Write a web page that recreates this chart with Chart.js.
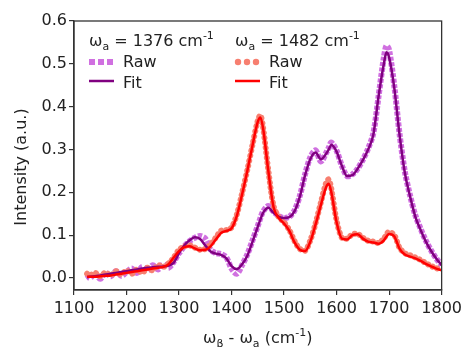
<!DOCTYPE html>
<html>
<head>
<meta charset="utf-8">
<script src="https://cdn.jsdelivr.net/npm/chart.js@4.4.0/dist/chart.umd.min.js"></script>
<style>
  html, body { margin: 0; padding: 0; background: #fff; }
  #wrap { width: 466px; height: 347px; }
</style>
</head>
<body>
<div id="wrap"><canvas id="myChart" width="466" height="347"></canvas></div>
<script>
const ctx = document.getElementById('myChart');

// raman shift grid (cm-1)
const shift = [1125, 1130, 1140, 1150, 1160, 1170, 1180, 1190, 1200, 1210, 1220, 1230, 1240, 1250,
  1260, 1270, 1280, 1290, 1300, 1310, 1320, 1330, 1340, 1350, 1360, 1370, 1380, 1390, 1400,
  1410, 1420, 1430, 1440, 1450, 1455, 1460, 1470, 1480, 1490, 1500, 1510, 1520, 1530, 1540,
  1550, 1560, 1570, 1580, 1585, 1590, 1600, 1610, 1620, 1630, 1640, 1650, 1660, 1670, 1680,
  1690, 1695, 1700, 1710, 1720, 1730, 1740, 1750, 1760, 1770, 1780, 1790, 1800];

// pump 1376 cm-1
const raw1376 = [0.008, 0.000, 0.010, -0.002, 0.012, 0.004, 0.016, 0.005, 0.014, 0.022, 0.012, 0.026, 0.018, 0.030,
  0.020, 0.032, 0.024, 0.038, 0.058, 0.074, 0.086, 0.094, 0.098, 0.092, 0.066, 0.058, 0.056, 0.048, 0.022,
  0.010, 0.030, 0.055, 0.088, 0.122, 0.140, 0.155, 0.168, 0.155, 0.145, 0.140, 0.143, 0.158, 0.192, 0.242,
  0.282, 0.298, 0.272, 0.292, 0.304, 0.316, 0.297, 0.262, 0.238, 0.242, 0.255, 0.276, 0.302, 0.338, 0.425,
  0.515, 0.542, 0.532, 0.447, 0.335, 0.248, 0.192, 0.146, 0.115, 0.087, 0.064, 0.045, 0.030];
const fit1376 = [0.002, 0.003, 0.004, 0.006, 0.008, 0.010, 0.012, 0.014, 0.016, 0.018, 0.020, 0.022, 0.024, 0.025,
  0.026, 0.027, 0.029, 0.036, 0.058, 0.076, 0.088, 0.095, 0.091, 0.076, 0.062, 0.057, 0.054, 0.046, 0.028,
  0.021, 0.032, 0.052, 0.085, 0.120, 0.137, 0.152, 0.164, 0.152, 0.143, 0.140, 0.142, 0.156, 0.190, 0.240,
  0.278, 0.293, 0.277, 0.290, 0.300, 0.311, 0.295, 0.262, 0.238, 0.240, 0.255, 0.275, 0.300, 0.335, 0.425,
  0.500, 0.527, 0.515, 0.442, 0.333, 0.245, 0.190, 0.143, 0.112, 0.085, 0.063, 0.045, 0.030];

// pump 1482 cm-1
const raw1482 = [0.010, 0.006, 0.012, 0.004, 0.013, 0.006, 0.016, 0.008, 0.018, 0.010, 0.020, 0.012, 0.024, 0.018,
  0.030, 0.026, 0.034, 0.048, 0.066, 0.074, 0.076, 0.071, 0.066, 0.068, 0.078, 0.094, 0.110, 0.112, 0.118,
  0.148, 0.198, 0.252, 0.312, 0.368, 0.380, 0.352, 0.252, 0.168, 0.142, 0.130, 0.112, 0.086, 0.068, 0.064,
  0.088, 0.128, 0.176, 0.222, 0.230, 0.208, 0.134, 0.094, 0.092, 0.102, 0.103, 0.094, 0.087, 0.085, 0.082,
  0.092, 0.102, 0.108, 0.100, 0.070, 0.058, 0.053, 0.048, 0.042, 0.035, 0.028, 0.023, 0.018];
const fit1482 = [0.003, 0.003, 0.003, 0.004, 0.005, 0.006, 0.008, 0.010, 0.012, 0.014, 0.016, 0.018, 0.020, 0.022,
  0.024, 0.026, 0.032, 0.048, 0.063, 0.072, 0.074, 0.069, 0.065, 0.066, 0.074, 0.090, 0.105, 0.110, 0.116,
  0.145, 0.195, 0.250, 0.310, 0.365, 0.375, 0.350, 0.250, 0.165, 0.140, 0.127, 0.110, 0.083, 0.066, 0.063,
  0.085, 0.125, 0.170, 0.212, 0.220, 0.200, 0.130, 0.092, 0.090, 0.100, 0.102, 0.092, 0.085, 0.083, 0.080,
  0.088, 0.097, 0.103, 0.097, 0.068, 0.055, 0.050, 0.046, 0.040, 0.033, 0.027, 0.022, 0.018];

const pumps = [1376, 1482];
const xTicks = [1100, 1200, 1300, 1400, 1500, 1600, 1700, 1800];
const yTicks = [0.0, 0.1, 0.2, 0.3, 0.4, 0.5, 0.6];

const purpleRaw = '#d070e0', purpleFit = '#800080';
const redRaw = '#f77f70', redFit = '#ff0000';
const FONT = '"DejaVu Sans", Verdana, sans-serif';

function pts(arr) {
  return shift.map((x, i) => ({x: x, y: arr[i]}));
}

// draw text with sub/superscript parts
function rich(c, parts, x, y, size) {
  let cx = x;
  parts.forEach(p => {
    const small = p[1] !== 'n';
    c.font = (small ? Math.round(size * 0.68) : size) + 'px ' + FONT;
    let dy = 0;
    if (p[1] === 'sub') dy = size * 0.28;
    if (p[1] === 'sup') dy = -size * 0.42;
    c.fillText(p[0], cx, y + dy);
    cx += c.measureText(p[0]).width;
  });
  return cx - x;
}
function richWidth(c, parts, size) {
  let w = 0;
  parts.forEach(p => {
    c.font = (p[1] !== 'n' ? Math.round(size * 0.68) : size) + 'px ' + FONT;
    w += c.measureText(p[0]).width;
  });
  return w;
}

const decor = {
  id: 'decor',
  afterDraw(chart) {
    const c = chart.ctx, a = chart.chartArea;
    c.save();
    // frame
    c.strokeStyle = '#333';
    c.lineWidth = 1.3;
    c.strokeRect(a.left, a.top, a.right - a.left, a.bottom - a.top);

    c.fillStyle = '#222';
    c.textBaseline = 'alphabetic';
    // x title
    const xt = [['ω', 'n'], ['β', 'sub'], [' - ω', 'n'], ['a', 'sub'], [' (cm', 'n'], ['-1', 'sup'], [')', 'n']];
    const w = richWidth(c, xt, 16);
    rich(c, xt, (a.left + a.right) / 2 - w / 2, 343, 16);
    // y title
    c.save();
    c.translate(22, 167);
    c.rotate(-Math.PI / 2);
    c.font = '16px ' + FONT;
    c.textAlign = 'center';
    c.textBaseline = 'middle';
    c.fillText('Intensity (a.u.)', 0, 0);
    c.restore();

    // legend
    const cols = [
      {x: 89, raw: purpleRaw, fit: purpleFit, sq: true},
      {x: 235, raw: redRaw, fit: redFit, sq: false}
    ];
    cols.forEach((col, k) => {
      c.fillStyle = '#222';
      rich(c, [['ω', 'n'], ['a', 'sub'], [' = ' + pumps[k] + ' cm', 'n'], ['-1', 'sup']], col.x, 46, 16);
      c.font = '16px ' + FONT;
      c.fillText('Raw', col.x + 34, 67);
      c.fillText('Fit', col.x + 34, 88);
      c.fillStyle = col.raw;
      for (let j = 0; j < 3; j++) {
        if (col.sq) {
          c.fillRect(col.x + j * 9, 59, 6, 6);
        } else {
          c.beginPath();
          c.arc(col.x + 3 + j * 9, 62, 3.2, 0, Math.PI * 2);
          c.fill();
        }
      }
      c.strokeStyle = col.fit;
      c.lineWidth = 2.5;
      c.beginPath();
      c.moveTo(col.x, 81);
      c.lineTo(col.x + 25, 81);
      c.stroke();
    });
    c.restore();
  }
};

// lower order is drawn on top
const chart = new Chart(ctx, {
  type: 'line',
  data: {
    datasets: [
      {label: 'Raw 1376', data: pts(raw1376), borderColor: purpleRaw, borderWidth: 6, order: 4,
        borderDash: [4, 1.5], borderCapStyle: 'butt', pointRadius: 0, tension: 0.3},
      {label: 'Raw 1482', data: pts(raw1482), borderColor: redRaw, borderWidth: 6, order: 3,
        borderDash: [0.01, 5], borderCapStyle: 'round', pointRadius: 0, tension: 0.3},
      {label: 'Fit 1376', data: pts(fit1376), borderColor: purpleFit, borderWidth: 2.5, order: 2,
        pointRadius: 0, cubicInterpolationMode: 'monotone'},
      {label: 'Fit 1482', data: pts(fit1482), borderColor: redFit, borderWidth: 2.5, order: 1,
        pointRadius: 0, cubicInterpolationMode: 'monotone'}
    ]
  },
  options: {
    responsive: false,
    animation: false,
    layout: {padding: {left: 0, right: 23, top: 21, bottom: 0}},
    plugins: {legend: {display: false}, tooltip: {enabled: false}},
    scales: {
      x: {
        type: 'linear', min: 1100, max: 1800,
        afterBuildTicks: s => { s.ticks = xTicks.map(v => ({value: v})); },
        afterFit: s => { s.height = 57; },
        grid: {drawOnChartArea: false, tickLength: 5, color: '#333', lineWidth: 1.2},
        border: {color: '#333', width: 1.3},
        ticks: {font: {family: FONT, size: 16}, color: '#222', padding: 4, maxRotation: 0,
          callback: v => String(v)}
      },
      y: {
        min: -0.028, max: 0.6,
        afterBuildTicks: s => { s.ticks = yTicks.map(v => ({value: v})); },
        afterFit: s => { s.width = 74; },
        grid: {drawOnChartArea: false, tickLength: 5, color: '#333', lineWidth: 1.2},
        border: {color: '#333', width: 1.3},
        ticks: {font: {family: FONT, size: 16}, color: '#222', padding: 2,
          callback: v => v.toFixed(1)}
      }
    }
  },
  plugins: [decor]
});
</script>
</body>
</html>
